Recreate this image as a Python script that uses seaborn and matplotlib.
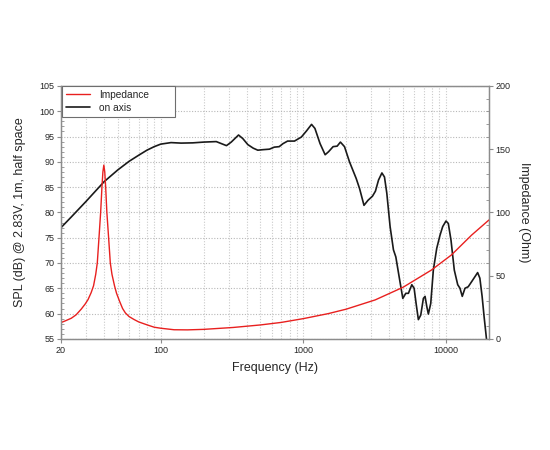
import numpy as np
import pandas as pd
import matplotlib
matplotlib.use("Agg")
import matplotlib.pyplot as plt
import seaborn as sns
from matplotlib.ticker import FixedLocator, FixedFormatter, NullFormatter, MultipleLocator
from matplotlib.lines import Line2D

# on-axis SPL response (dB)
spl_freq = [20, 23.6, 30, 40, 50, 60, 70, 80, 90, 100, 118, 139, 168, 200, 245, 266, 289,
            312, 351, 376, 408, 445, 479, 520, 578, 625, 677, 720, 775, 866, 968, 1051,
            1141, 1205, 1309, 1421, 1502, 1616, 1725, 1818, 1942, 2105, 2346, 2478, 2660,
            2840, 3050, 3200, 3364, 3553, 3703, 3845, 4055, 4280, 4448, 4690, 4979, 5224,
            5450, 5757, 5976, 6170, 6400, 6652, 6940, 7130, 7330, 7520, 7815, 8150, 8610,
            9080, 9480, 10000, 10380, 10840, 11430, 12080, 12530, 13000, 13580, 14310,
            15120, 15960, 16660, 17270, 17910, 18490, 19300]
spl_db = [77.0, 79.1, 82.2, 86.05, 88.4, 90.1, 91.3, 92.3, 93.0, 93.5, 93.8, 93.7, 93.75,
          93.9, 94.0, 93.6, 93.2, 93.9, 95.3, 94.6, 93.4, 92.7, 92.3, 92.4, 92.5, 92.9,
          93.0, 93.6, 94.1, 94.1, 94.9, 96.1, 97.4, 96.6, 93.6, 91.4, 92.0, 93.0, 93.1,
          93.9, 93.0, 90.0, 86.7, 84.7, 81.4, 82.4, 83.2, 84.2, 86.4, 87.8, 87.0, 83.8,
          77.2, 72.6, 71.2, 67.3, 63.0, 64.0, 64.0, 65.7, 65.0, 62.0, 58.8, 59.7, 63.0,
          63.4, 61.4, 59.9, 62.0, 68.6, 72.9, 75.5, 77.2, 78.3, 77.8, 74.5, 68.6, 65.7,
          65.0, 63.4, 65.0, 65.3, 66.3, 67.3, 68.1, 67.0, 63.4, 59.4, 54.5]

# impedance (Ohm)
imp_freq = [20, 21.5, 23.6, 25.5, 27.7, 29.5, 30.9, 32.5, 33.8, 35, 35.9, 36.9, 37.9,
            38.7, 39.3, 39.9, 40.5, 41.1, 41.9, 43.1, 44.3, 45.5, 47.4, 49, 51.5, 54,
            56.5, 60, 65, 70, 80, 90, 100, 124, 154, 200, 322, 500, 700, 1000, 1500,
            2000, 3188, 5000, 7900, 10900, 15100, 20000]
imp_ohm = [12.9, 14.3, 16.3, 19.0, 23.5, 27.5, 31, 36.5, 42, 51, 60, 80, 100,
           120, 132, 137.4, 132, 120, 100, 80, 60, 51, 42, 36, 29.6, 24,
           20.5, 17.6, 15.3, 13.4, 11.1, 9.2, 8.4, 7.2, 7.1, 7.5, 9.0, 11.0, 13.0, 16.0,
           20.0, 23.5, 30.8, 40.8, 54.4, 66.3, 82.0, 94.0]

major_x = [20, 100, 1000, 10000]
grid_x = [20, 30, 40, 50, 60, 70, 80, 90, 100, 200, 300, 400, 500, 600, 700, 800, 900,
          1000, 2000, 3000, 4000, 5000, 6000, 7000, 8000, 9000, 10000, 20000]

spl = pd.DataFrame({"freq": spl_freq, "db": spl_db})
imp = pd.DataFrame({"freq": imp_freq, "ohm": imp_ohm})

sns.set_style("white")
plt.rcParams["font.family"] = ["Liberation Sans", "DejaVu Sans"]

red = "#e8201f"
black = "#1a1a1a"
spine_c = "#8c8c8c"

fig, ax = plt.subplots(figsize=(5.5, 4.5), dpi=100)
fig.subplots_adjust(left=0.111, right=0.889, bottom=0.247, top=0.809)
ax2 = ax.twinx()

sns.lineplot(data=spl, x="freq", y="db", ax=ax, color=black, lw=1.2, sort=False)
sns.lineplot(data=imp, x="freq", y="ohm", ax=ax2, color=red, lw=1.0, sort=False)

for a in (ax, ax2):
    a.set_xscale("log")
    a.set_xlim(20, 20000)
    for s in a.spines.values():
        s.set_color(spine_c)
        s.set_linewidth(0.9)

ax.set_ylim(55, 105)
ax2.set_ylim(0, 200)

ax.xaxis.set_major_locator(FixedLocator(major_x))
ax.xaxis.set_major_formatter(FixedFormatter([str(v) for v in major_x]))
ax.xaxis.set_minor_locator(FixedLocator(grid_x))
ax.xaxis.set_minor_formatter(NullFormatter())
ax.yaxis.set_major_locator(MultipleLocator(5))
ax.yaxis.set_minor_locator(MultipleLocator(1))
ax2.yaxis.set_major_locator(MultipleLocator(50))
ax2.yaxis.set_minor_locator(MultipleLocator(10))

ax.tick_params(axis="x", which="major", direction="out", length=3, width=0.8,
               color=spine_c, labelsize=6.5, pad=2, bottom=True)
ax.tick_params(axis="x", which="minor", length=0)
ax.tick_params(axis="y", which="major", direction="out", length=3, width=0.8,
               color=spine_c, labelsize=6.5, pad=1.5, left=True)
ax.tick_params(axis="y", which="minor", direction="in", length=2, width=0.6, color=spine_c, left=True)
ax2.tick_params(axis="y", which="major", direction="out", length=3, width=0.8,
                color=spine_c, labelsize=6.5, pad=1.5, right=True)
ax2.tick_params(axis="y", which="minor", direction="in", length=2, width=0.6, color=spine_c, right=True)

ax.grid(True, which="both", axis="x", linestyle=(0, (1, 1.5)), color="#cacaca", lw=0.8)
ax.grid(True, which="major", axis="y", linestyle=(0, (1, 1.5)), color="#b8b8b8", lw=0.8)
ax2.grid(False)

ax.set_xlabel("Frequency (Hz)", fontsize=9, labelpad=5)
ax.set_ylabel("SPL (dB) @ 2.83V, 1m, half space", fontsize=9, labelpad=10)
ax2.set_ylabel("Impedance (Ohm)", fontsize=9, rotation=270, labelpad=14)

handles = [Line2D([], [], color=red, lw=1.0), Line2D([], [], color=black, lw=1.2)]
leg = ax2.legend(handles, ["Impedance", "on axis"], loc="upper left",
                 bbox_to_anchor=(0.003, 0.0, 0.263, 0.998), mode="expand",
                 fontsize=7.3, frameon=True, fancybox=False, edgecolor="#6e6e6e",
                 framealpha=1, borderaxespad=0, handlelength=2.4, handletextpad=0.9,
                 borderpad=0.35, labelspacing=0.3)
leg.get_frame().set_linewidth(0.8)

fig.savefig("out.png", dpi=100)
